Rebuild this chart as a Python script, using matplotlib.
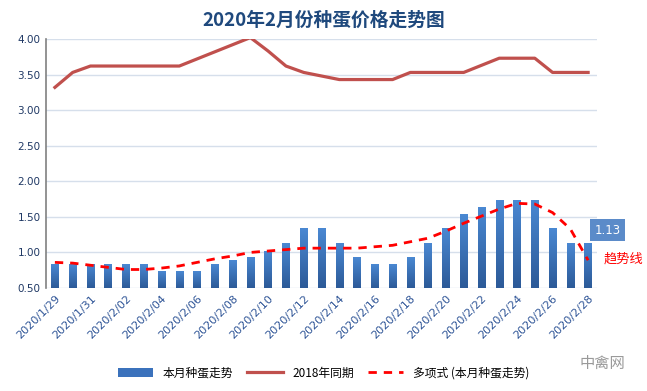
import numpy as np
import matplotlib
matplotlib.use('Agg')
import matplotlib.pyplot as plt
from matplotlib.colors import LinearSegmentedColormap

plt.rcParams['font.family'] = ['Noto Sans CJK SC', 'DejaVu Sans']

# 31 days: 2020/1/29 .. 2020/2/28
dates = ['2020/1/29', '2020/1/30', '2020/1/31'] + ['2020/2/%02d' % d for d in range(1, 29)]

# 本月种蛋走势
price_2020 = [0.83, 0.83, 0.83, 0.83, 0.83, 0.83, 0.73, 0.73, 0.73, 0.83,
              0.88, 0.93, 1.02, 1.13, 1.33, 1.33, 1.13, 0.93, 0.83, 0.83,
              0.93, 1.13, 1.33, 1.53, 1.63, 1.73, 1.73, 1.73, 1.33, 1.13, 1.13]

# 2018年同期
price_2018 = [3.32, 3.53, 3.62, 3.62, 3.62, 3.62, 3.62, 3.62, 3.72, 3.82,
              3.92, 4.02, 3.83, 3.62, 3.53, 3.48, 3.43, 3.43, 3.43, 3.43,
              3.53, 3.53, 3.53, 3.53, 3.63, 3.73, 3.73, 3.73, 3.53, 3.53, 3.53]

# 多项式 (本月种蛋走势)
trend = [0.86, 0.85, 0.82, 0.79, 0.76, 0.76, 0.78, 0.81, 0.86, 0.91,
         0.95, 1.00, 1.02, 1.04, 1.06, 1.06, 1.06, 1.06, 1.08, 1.10,
         1.15, 1.20, 1.30, 1.41, 1.51, 1.61, 1.69, 1.68, 1.56, 1.33, 0.89]

x = np.arange(len(dates))
bar_w = 0.42
ymin, ymax = 0.5, 4.0

fig = plt.figure(figsize=(6.47, 3.91), dpi=100)
ax = fig.add_axes([46/647, 1 - 288/391, 551/647, 249/391])

# bars: plain bar for legend/geometry, gradient painted on top
bars = ax.bar(x, price_2020, width=bar_w, color='#3B72BC', zorder=2,
              label='本月种蛋走势')
cmap = LinearSegmentedColormap.from_list('bluegrad', ['#2C5A98', '#4A88D2'])
grad = np.linspace(0, 1, 64).reshape(-1, 1)
for b in bars:
    bx, bh = b.get_x(), b.get_height()
    ax.imshow(grad, extent=[bx, bx + bar_w, ymin, bh], origin='lower',
              aspect='auto', cmap=cmap, zorder=2.1)

l1, = ax.plot(x, price_2018, color='#C0504D', lw=2.3, zorder=3, label='2018年同期')
l2, = ax.plot(x, trend, color='#FF0000', lw=2, ls=(0, (3, 2.5)), zorder=4,
              label='多项式 (本月种蛋走势)')

ax.set_ylim(ymin, ymax)
ax.set_xlim(-0.5, len(dates) - 0.5)
ax.set_yticks(np.arange(0.5, 4.01, 0.5))
ax.set_yticklabels(['%.2f' % v for v in np.arange(0.5, 4.01, 0.5)],
                   fontsize=7.5, color='#1F3864', family='DejaVu Sans')
ax.set_xticks(x[::2])
ax.set_xticklabels(dates[::2], rotation=45, ha='right', rotation_mode='anchor',
                   fontsize=8, color='#2F5597', family='DejaVu Sans')
ax.tick_params(axis='both', length=0, pad=4)
ax.grid(axis='y', color='#D6DFEB', lw=1, zorder=0)
for s in ['top', 'right', 'bottom']:
    ax.spines[s].set_visible(False)
ax.spines['left'].set_color('#808080')
ax.spines['left'].set_linewidth(1.2)

fig.text(0.5, 1 - 20/391, '2020年2月份种蛋价格走势图', ha='center', va='center',
         fontsize=13.5, fontweight='bold', color='#1F497D')

# data label for the last bar
fig.text(607.5/647, 1 - 230/391, '%.2f' % price_2020[-1], ha='center', va='center',
         fontsize=8.5, color='white', family='DejaVu Sans',
         bbox=dict(boxstyle='square,pad=0.4', fc='#5B8BC9', ec='none'))
fig.text(604/647, 1 - 259/391, '趋势线', ha='left', va='center',
         fontsize=9.5, color='#FF0000')

fig.legend(handles=[bars, l1, l2], loc='center', bbox_to_anchor=(0.5, 1 - 373/391),
           ncol=3, frameon=False, fontsize=8.5, handlelength=3, columnspacing=1.2)

fig.text(580/647, 1 - 363/391, '中禽网', ha='left', va='center',
         fontsize=11, color='#9A9A9A')

fig.savefig('out.png', dpi=100)
